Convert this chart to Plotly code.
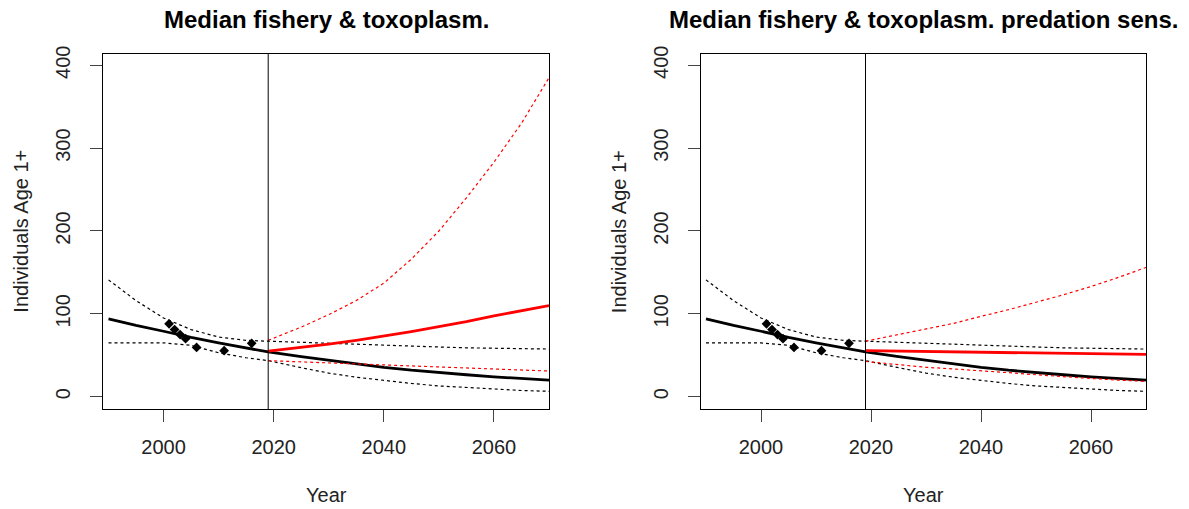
import plotly.graph_objects as go

# ---------------- data ----------------
years_all = [1990, 1995, 2000, 2005, 2010, 2015, 2019, 2025, 2030, 2035, 2040,
             2045, 2050, 2055, 2060, 2065, 2070]
black_median = [94, 86, 79, 71.5, 65, 59, 54, 48.5, 44, 39.5, 35.5,
                32, 29, 26.5, 24, 22, 20]
black_upper = [141, 116, 95, 81, 72, 68, 67, 65.5, 64.5, 63, 62,
               61, 60, 59, 58.5, 58, 57.5]
black_lower = [65, 65, 65, 62, 53, 47, 43.5, 35, 28.5, 23.5, 19.5,
               16, 13, 11, 9, 7.5, 6.5]

years_proj = [2019, 2025, 2030, 2035, 2040, 2045, 2050, 2055, 2060, 2065, 2070]
# left panel: fishery & toxoplasm.
red_median_a = [55, 59.5, 63.5, 68, 73, 78.5, 84.5, 90.5, 97.5, 104, 110]
red_upper_a = [68, 84, 99, 116, 137, 166, 200, 240, 283, 330, 385]
red_lower_a = [43.5, 42, 41.3, 40, 38.5, 37, 35.5, 34.5, 33, 32, 31]
# right panel: predation sensitivity
red_median_b = [55.5, 55, 54.5, 54, 53.5, 53, 52.5, 52, 52, 51.5, 51]
red_upper_b = [67, 75, 82, 88.5, 97, 105, 114, 123, 133, 144, 156]
red_lower_b = [42.5, 38.5, 35.5, 33.5, 31.5, 29, 26.5, 24, 22, 20, 18.5]

obs_years = [2001, 2002, 2003, 2004, 2006, 2011, 2016]
obs_values = [88, 81, 75, 70, 59.5, 55.5, 64.5]

split_year = 2019
titles = ["Median fishery & toxoplasm.", "Median fishery & toxoplasm. predation sens."]
x_label = "Year"
y_label = "Individuals Age 1+"
x_ticks = [2000, 2020, 2040, 2060]
y_ticks = [0, 100, 200, 300, 400]

# ---------------- figure ----------------
FONT = "Liberation Sans, Arial, sans-serif"
W, H = 1189, 509
fig = go.Figure()

panels = [
    dict(xa="x", ya="y", red=(red_median_a, red_upper_a, red_lower_a)),
    dict(xa="x2", ya="y2", red=(red_median_b, red_upper_b, red_lower_b)),
]
dot = "3px,3px"
for p in panels:
    rm, ru, rl = p["red"]
    kw = dict(xaxis=p["xa"], yaxis=p["ya"], showlegend=False, hoverinfo="skip")
    fig.add_trace(go.Scatter(x=years_all, y=black_upper, mode="lines",
                             line=dict(color="black", width=1.2, dash=dot), **kw))
    fig.add_trace(go.Scatter(x=years_all, y=black_lower, mode="lines",
                             line=dict(color="black", width=1.2, dash=dot), **kw))
    fig.add_trace(go.Scatter(x=years_all, y=black_median, mode="lines",
                             line=dict(color="black", width=2.8), **kw))
    fig.add_trace(go.Scatter(x=years_proj, y=ru, mode="lines",
                             line=dict(color="red", width=1.2, dash=dot), **kw))
    fig.add_trace(go.Scatter(x=years_proj, y=rl, mode="lines",
                             line=dict(color="red", width=1.2, dash=dot), **kw))
    fig.add_trace(go.Scatter(x=years_proj, y=rm, mode="lines",
                             line=dict(color="red", width=2.8), **kw))
    fig.add_trace(go.Scatter(x=obs_years, y=obs_values, mode="markers",
                             marker=dict(symbol="diamond", size=7.5, color="black"), **kw))
    fig.add_shape(type="line", x0=split_year, x1=split_year, y0=0, y1=1,
                  xref=p["xa"], yref=p["ya"] + " domain",
                  line=dict(color="black", width=1))

x_dom = [[103 / W, 549 / W], [700.5 / W, 1146 / W]]
y_dom = [1 - 409.3 / H, 1 - 54 / H]

axis_common = dict(showgrid=False, zeroline=False, showline=True, linecolor="black",
                   linewidth=1, mirror=True, ticks="outside", ticklen=12,
                   tickcolor="#444", tickwidth=1, automargin=False,
                   tickfont=dict(family=FONT, size=20, color="#222"))
for i, (xa, ya) in enumerate([("xaxis", "yaxis"), ("xaxis2", "yaxis2")]):
    fig.update_layout(**{
        xa: dict(domain=x_dom[i], range=[1989, 2070], tickvals=x_ticks,
                 anchor="y" if i == 0 else "y2", ticklabelstandoff=8, **axis_common),
        ya: dict(domain=y_dom, range=[-15.2, 413.6], tickvals=y_ticks,
                 anchor="x" if i == 0 else "x2", tickangle=-90,
                 ticklabelstandoff=12, **axis_common),
    })

ann = []
for i in range(2):
    cx = (x_dom[i][0] + x_dom[i][1]) / 2
    ann.append(dict(text="<b>" + titles[i] + "</b>", x=cx, y=1 - 20 / H, xref="paper",
                    yref="paper", showarrow=False, xanchor="center", yanchor="middle",
                    font=dict(family=FONT, size=24, color="black")))
    ann.append(dict(text=x_label, x=cx, y=1 - 495 / H, xref="paper", yref="paper",
                    showarrow=False, xanchor="center", yanchor="middle",
                    font=dict(family=FONT, size=20, color="#222")))
    ann.append(dict(text=y_label, x=(x_dom[i][0] * W - 82) / W, y=(y_dom[0] + y_dom[1]) / 2,
                    xref="paper", yref="paper", showarrow=False, textangle=-90,
                    xanchor="center", yanchor="middle",
                    font=dict(family=FONT, size=20, color="#222")))

fig.update_layout(width=W, height=H, margin=dict(l=0, r=0, t=0, b=0, autoexpand=False),
                  paper_bgcolor="white", plot_bgcolor="white", annotations=ann)

fig.write_html("out.html", config={"displayModeBar": False},
               post_script="document.body.style.margin='0px';"
                           "document.body.style.overflow='hidden';")
